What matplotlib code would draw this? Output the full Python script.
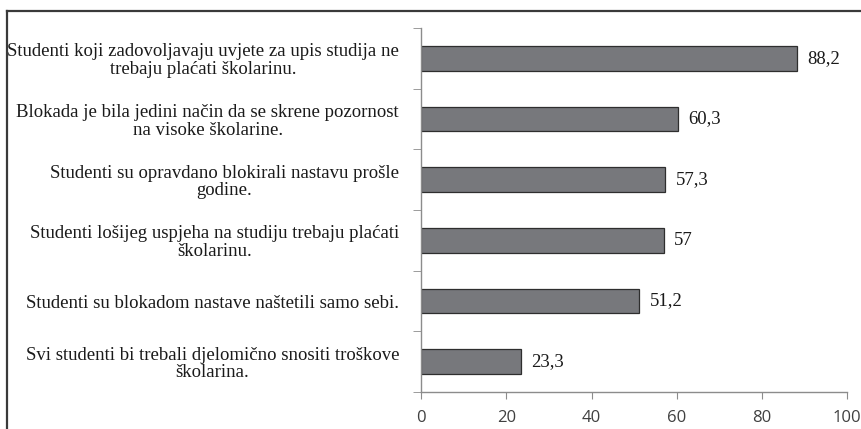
import numpy as np
import matplotlib.pyplot as plt
from matplotlib.lines import Line2D

# data, top to bottom as in the picture
labels = [
    "Studenti koji zadovoljavaju uvjete za upis studija ne\ntrebaju plaćati školarinu.",
    "Blokada je bila jedini način da se skrene pozornost\nna visoke školarine.",
    "Studenti su opravdano blokirali nastavu prošle\ngodine.",
    "Studenti lošijeg uspjeha na studiju trebaju plaćati\nškolarinu.",
    "Studenti su blokadom nastave naštetili samo sebi.",
    "Svi studenti bi trebali djelomično snositi troškove\nškolarina.",
]
values = [88.2, 60.3, 57.3, 57, 51.2, 23.3]
value_text = ["88,2", "60,3", "57,3", "57", "51,2", "23,3"]
x_ticks = [0, 20, 40, 60, 80, 100]


def main():
    fig = plt.figure(figsize=(8.62, 4.29), dpi=100)
    ax = fig.add_axes([0.4888, 0.0862, 0.4938, 0.8485])

    n = len(values)
    pos = np.arange(n)[::-1]
    ax.barh(pos, values, height=0.41, color="#77787c",
            edgecolor="#2e2e2e", linewidth=0.9)

    for p, v, t in zip(pos, values, value_text):
        ax.text(v + 2.4, p, t, va="center", ha="left",
                fontsize=13.5, family="Liberation Serif", color="#1a1a1a")

    ax.set_xlim(0, 100)
    ax.set_ylim(-0.5, n - 0.5)

    ax.set_xticks(x_ticks)
    ax.set_xticklabels([str(x) for x in x_ticks], fontsize=12,
                       family="Open Sans", color="#404040")
    ax.tick_params(axis="x", length=5, color="#8c8c8c", pad=8)

    ax.set_yticks(pos)
    ax.set_yticklabels(labels, fontsize=13.5, family="Liberation Serif",
                       color="#1a1a1a", multialignment="center",
                       linespacing=1.05)
    ax.tick_params(axis="y", which="major", length=0, pad=16)
    ax.set_yticks(np.arange(-0.5, n, 1.0), minor=True)
    ax.tick_params(axis="y", which="minor", length=6, color="#8c8c8c")

    for s in ["top", "right"]:
        ax.spines[s].set_visible(False)
    for s in ["left", "bottom"]:
        ax.spines[s].set_color("#8c8c8c")
        ax.spines[s].set_linewidth(1)

    # outer frame, only top and left edges are visible in the picture
    W, H = 862, 429
    fig.add_artist(Line2D([7.5 / W, 1], [1 - 10.5 / H, 1 - 10.5 / H],
                          transform=fig.transFigure, color="#3a3a3a", lw=1.6))
    fig.add_artist(Line2D([7.5 / W, 7.5 / W], [0, 1 - 10.5 / H],
                          transform=fig.transFigure, color="#3a3a3a", lw=1.6))

    fig.savefig("out.png", dpi=100)


if __name__ == "__main__":
    main()
